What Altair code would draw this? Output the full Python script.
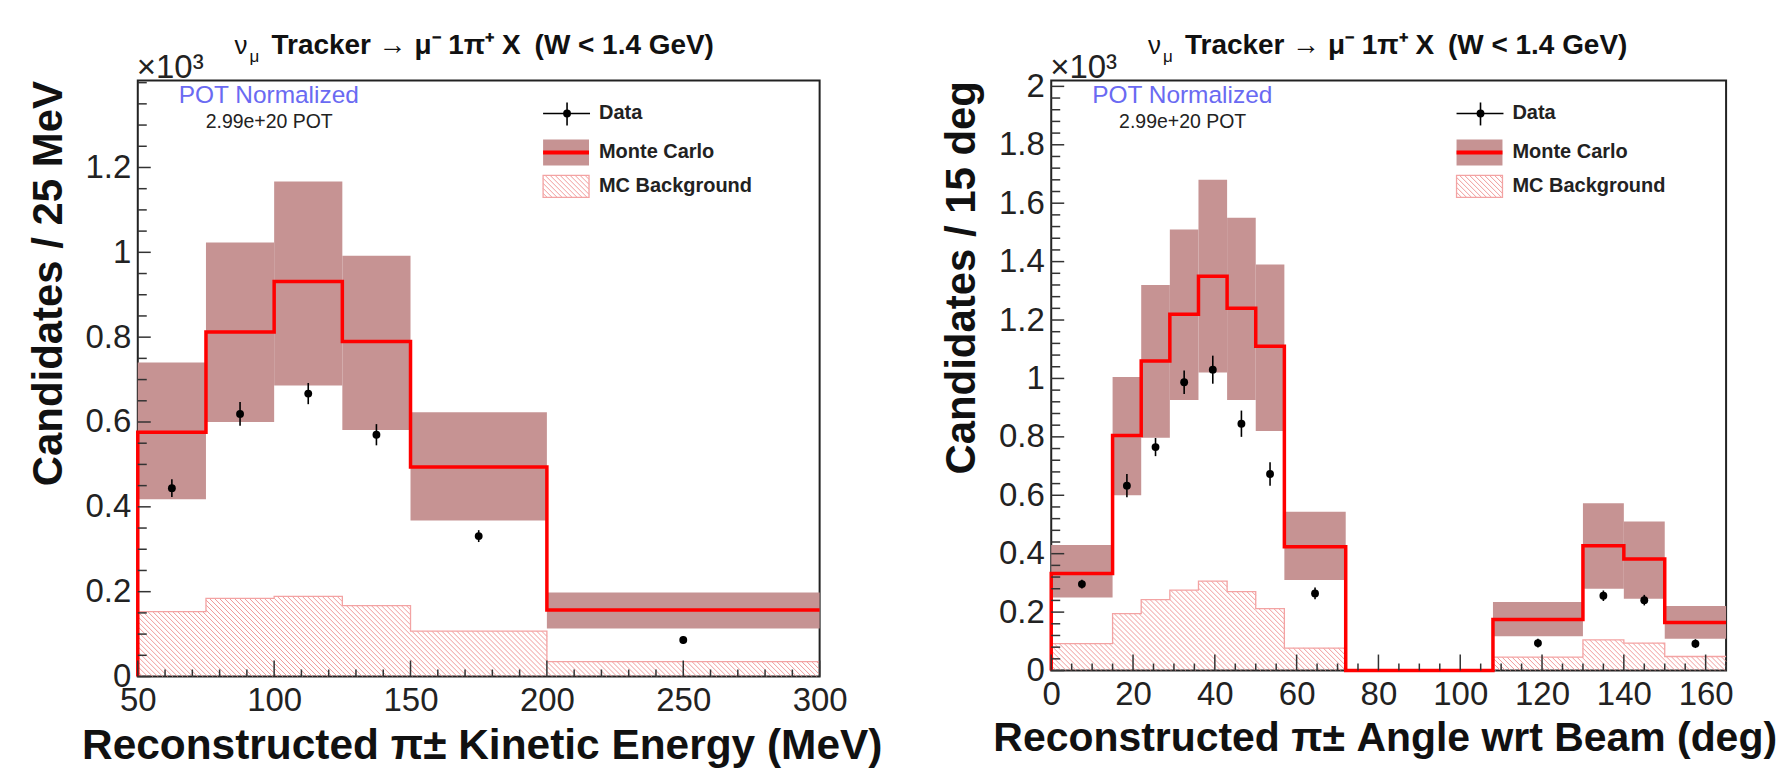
import math
import altair as alt
import pandas as pd

# ---------------- data (units of 10^3 candidates) ----------------
# Left panel: reconstructed pion kinetic energy
ke_edges = [50, 75, 100, 125, 150, 200, 300]
ke_mc = [0.576, 0.812, 0.931, 0.790, 0.494, 0.157]
ke_mc_lo = [0.418, 0.600, 0.686, 0.581, 0.368, 0.113]
ke_mc_hi = [0.740, 1.023, 1.167, 0.992, 0.623, 0.198]
ke_bkg = [0.153, 0.184, 0.189, 0.167, 0.107, 0.035]
ke_data = [0.444, 0.619, 0.667, 0.570, 0.331, 0.086]
ke_err = [0.021, 0.028, 0.025, 0.025, 0.014, 0.009]
ke_xticks = [50, 100, 150, 200, 250, 300]
ke_yticks = [0, 0.2, 0.4, 0.6, 0.8, 1.0, 1.2]

# Right panel: reconstructed pion angle wrt beam
ang_edges = [0, 15, 22, 29, 36, 43, 50, 57, 72, 108, 130, 140, 150, 165]
ang_mc = [0.332, 0.805, 1.06, 1.22, 1.35, 1.24, 1.11, 0.424, 0.0, 0.175, 0.427, 0.382, 0.164]
ang_mc_lo = [0.25, 0.60, 0.797, 0.926, 1.02, 0.926, 0.82, 0.31, 0.0, 0.117, 0.28, 0.246, 0.109]
ang_mc_hi = [0.43, 1.005, 1.32, 1.51, 1.68, 1.55, 1.39, 0.544, 0.0, 0.235, 0.573, 0.51, 0.221]
ang_bkg = [0.092, 0.195, 0.243, 0.275, 0.306, 0.27, 0.212, 0.077, 0.0, 0.046, 0.105, 0.094, 0.048]
ang_data = [0.296, 0.633, 0.765, 0.987, 1.03, 0.845, 0.673, 0.264, None, 0.094, 0.256, 0.241, 0.092]
ang_err = [0.015, 0.04, 0.031, 0.04, 0.048, 0.045, 0.04, 0.02, None, 0.015, 0.018, 0.018, 0.015]
ang_xticks = [0, 20, 40, 60, 80, 100, 120, 140, 160]
ang_yticks = [0, 0.2, 0.4, 0.6, 0.8, 1.0, 1.2, 1.4, 1.6, 1.8, 2.0]

title_main = "Tracker \u2192 \u03bc\u207b 1\u03c0\u207a X\u2002(W < 1.4 GeV)"
legend_labels = ["Data", "Monte Carlo", "MC Background"]

# ---------------- styles ----------------
FONT = "Liberation Sans"
BAND = "#c69393"
RED = "#ff0000"
HATCH = "#f09a9a"
TXT = "#222222"


def minor_ticks(lo, hi, step, majors):
    out = []
    n = int(round((hi - lo) / step))
    for i in range(n + 1):
        v = round(lo + i * step, 6)
        if v <= hi and all(abs(v - m) > 1e-6 for m in majors):
            out.append(v)
    return out


def hatch(rects, sx, sy, xmin, spacing=5.0):
    rows = []
    for (X0, X1, Y0, Y1) in rects:
        if Y1 - Y0 < 0.5 or X1 - X0 < 0.5:
            continue
        k0 = math.ceil((X0 + Y0) / spacing)
        k1 = math.floor((X1 + Y1) / spacing)
        for k in range(k0, k1 + 1):
            c = k * spacing
            xs = max(X0, c - Y1)
            xe = min(X1, c - Y0)
            if xe - xs < 0.3:
                continue
            rows.append(dict(x=xmin + xs / sx, y=(c - xs) / sy,
                             x2=xmin + xe / sx, y2=(c - xe) / sy))
    return pd.DataFrame(rows)


def panel(edges, mc, lo, hi, bkg, data, err, xdom, ydom, W, H,
          xmaj, xminstep, ymaj, yminstep, xtitle, ytitle, xtitle_shift=0,
          xtitle_size=41):
    sx = W / (xdom[1] - xdom[0])
    sy = H / (ydom[1] - ydom[0])
    xs = alt.Scale(domain=list(xdom), nice=False, zero=False)
    ys = alt.Scale(domain=list(ydom), nice=False, zero=False)
    xax = alt.Axis(values=xmaj, format="d", ticks=False, domain=False, grid=False,
                   labelFont=FONT, labelFontSize=33, labelColor=TXT, labelPadding=8,
                   labelFlush=False, labelOverlap=False,
                   title=xtitle, titleFont=FONT, titleFontSize=xtitle_size,
                   titleFontWeight="bold", titleColor="#111", titlePadding=7,
                   titleX=W / 2 + xtitle_shift)
    yax = alt.Axis(values=ymaj, format="~g", ticks=False, domain=False, grid=False,
                   labelFont=FONT, labelFontSize=33, labelColor=TXT, labelPadding=7,
                   labelOverlap=False, labelFlush=False,
                   title=ytitle, titleFont=FONT, titleFontSize=42, titleFontWeight="bold",
                   titleColor="#111", titlePadding=15, titleAnchor="end")

    def X(f):
        return alt.X(f, type="quantitative", scale=xs, axis=xax)

    def Y(f):
        return alt.Y(f, type="quantitative", scale=ys, axis=yax)

    nb = len(mc)
    bins = pd.DataFrame({"x": edges[:-1], "x2": edges[1:], "mc": mc,
                         "lo": lo, "hi": hi, "bkg": bkg})
    band_df = bins[bins["hi"] > bins["lo"]]
    band = alt.Chart(band_df).mark_rect(color=BAND).encode(
        x=X("x"), x2="x2", y=Y("lo"), y2="hi")

    # hatch for MC background (bins + legend box, pixel box relative to plot)
    rects = []
    for i in range(nb):
        rects.append(((edges[i] - xdom[0]) * sx, (edges[i + 1] - xdom[0]) * sx,
                      0.0, bkg[i] * sy))
    rects.append((406.0, 452.0, H - 117.0, H - 95.0))
    hdf = hatch(rects, sx, sy, xdom[0])
    hatch_layer = alt.Chart(hdf).mark_rule(color=HATCH, strokeWidth=1.0).encode(
        x=X("x"), y=Y("y"), x2="x2", y2="y2")

    # background outline
    bpts = []
    for i in range(nb):
        bpts.append((edges[i], bkg[i]))
        bpts.append((edges[i + 1], bkg[i]))
    bdf = pd.DataFrame({"x": [p[0] for p in bpts], "y": [p[1] for p in bpts],
                        "o": list(range(len(bpts)))})
    bline = alt.Chart(bdf).mark_line(color="#f3a3a3", strokeWidth=1.3).encode(
        x=X("x"), y=Y("y"), order="o:Q")

    # MC step line
    pts = [(edges[0], 0.0)]
    for i in range(nb):
        pts.append((edges[i], mc[i]))
        pts.append((edges[i + 1], mc[i]))
    sdf = pd.DataFrame({"x": [p[0] for p in pts], "y": [p[1] for p in pts],
                        "o": list(range(len(pts)))})
    mcline = alt.Chart(sdf).mark_line(color=RED, strokeWidth=3.5, strokeJoin="miter").encode(
        x=X("x"), y=Y("y"), order="o:Q")

    # data points
    rows = []
    for i in range(nb):
        if data[i] is None:
            continue
        c = 0.5 * (edges[i] + edges[i + 1])
        rows.append(dict(x=c, y=data[i], ylo=data[i] - err[i], yhi=data[i] + err[i]))
    ddf = pd.DataFrame(rows)
    ebar = alt.Chart(ddf).mark_rule(color="black", strokeWidth=1.6).encode(
        x=X("x"), y=Y("ylo"), y2="yhi")
    pts_layer = alt.Chart(ddf).mark_circle(color="black", size=62, opacity=1).encode(
        x=X("x"), y=Y("y"))

    # inward ticks
    ymin_t = minor_ticks(ydom[0], ydom[1], yminstep, ymaj)
    xmin_t = minor_ticks(xdom[0], xdom[1], xminstep, xmaj)
    tick_style = dict(color="#333333", strokeWidth=1.5)
    yt_maj = alt.Chart(pd.DataFrame({"y": ymaj})).mark_rule(**tick_style).encode(
        y=Y("y"), x=alt.value(0), x2=alt.value(13))
    yt_min = alt.Chart(pd.DataFrame({"y": ymin_t})).mark_rule(**tick_style).encode(
        y=Y("y"), x=alt.value(0), x2=alt.value(9))
    xt_maj = alt.Chart(pd.DataFrame({"x": xmaj})).mark_rule(**tick_style).encode(
        x=X("x"), y=alt.value(H), y2=alt.value(H - 16))
    xt_min = alt.Chart(pd.DataFrame({"x": xmin_t})).mark_rule(**tick_style).encode(
        x=X("x"), y=alt.value(H), y2=alt.value(H - 7))

    one = pd.DataFrame({"a": [0]})
    # legend
    lg_dh = alt.Chart(one).mark_rule(color="black", strokeWidth=1.6).encode(
        x=alt.value(406), x2=alt.value(453), y=alt.value(33))
    lg_dv = alt.Chart(one).mark_rule(color="black", strokeWidth=1.6).encode(
        x=alt.value(430), y=alt.value(22), y2=alt.value(45))
    lg_dp = alt.Chart(one).mark_circle(color="black", size=62, opacity=1).encode(
        x=alt.value(430), y=alt.value(33))
    lg_mc = alt.Chart(one).mark_rect(color=BAND).encode(
        x=alt.value(406), x2=alt.value(452), y=alt.value(59), y2=alt.value(85))
    lg_mcl = alt.Chart(one).mark_rule(color=RED, strokeWidth=4).encode(
        x=alt.value(406), x2=alt.value(452), y=alt.value(72))
    lg_bg = alt.Chart(one).mark_rect(fill="white", stroke="#f3a3a3", strokeWidth=1.3,
                                     fillOpacity=0).encode(
        x=alt.value(406), x2=alt.value(452), y=alt.value(95), y2=alt.value(117))
    lg_txt = alt.Chart(pd.DataFrame({"t": legend_labels, "yy": [33, 72, 106]})).mark_text(
        font=FONT, fontSize=20, fontWeight="bold", color=TXT, align="left",
        baseline="middle").encode(x=alt.value(462), y=alt.Y("yy:Q", scale=None), text="t:N")

    # annotations
    pot1 = alt.Chart(pd.DataFrame({"t": ["POT Normalized"]})).mark_text(
        font=FONT, fontSize=24.5, color="#6a6af2", align="left", baseline="alphabetic").encode(
        x=alt.value(41), y=alt.value(23), text="t:N")
    pot2 = alt.Chart(pd.DataFrame({"t": ["2.99e+20 POT"]})).mark_text(
        font=FONT, fontSize=19.5, color=TXT, align="left", baseline="alphabetic").encode(
        x=alt.value(68), y=alt.value(48), text="t:N")
    x103 = alt.Chart(pd.DataFrame({"t": ["\u00d710\u00b3"]})).mark_text(
        font=FONT, fontSize=33, color=TXT, align="left", baseline="alphabetic").encode(
        x=alt.value(-1), y=alt.value(-3), text="t:N")
    t_nu = alt.Chart(pd.DataFrame({"t": ["\u03bd"]})).mark_text(
        font=FONT, fontSize=26, color="#111", align="left", baseline="alphabetic").encode(
        x=alt.value(97), y=alt.value(-27), text="t:N")
    t_mu = alt.Chart(pd.DataFrame({"t": ["\u03bc"]})).mark_text(
        font=FONT, fontSize=17, color="#111", align="left", baseline="alphabetic").encode(
        x=alt.value(112), y=alt.value(-19), text="t:N")
    t_main = alt.Chart(pd.DataFrame({"t": [title_main]})).mark_text(
        font=FONT, fontSize=28, fontWeight="bold", color="#111", align="left",
        baseline="alphabetic").encode(x=alt.value(134), y=alt.value(-27), text="t:N")

    return alt.layer(
        band, hatch_layer, bline, mcline, ebar, pts_layer,
        yt_maj, yt_min, xt_maj, xt_min,
        lg_mc, lg_mcl, lg_bg, lg_dh, lg_dv, lg_dp, lg_txt,
        pot1, pot2, x103, t_nu, t_mu, t_main,
    ).properties(width=W, height=H)


left = panel(ke_edges, ke_mc, ke_mc_lo, ke_mc_hi, ke_bkg, ke_data, ke_err,
             (50, 300), (0, 1.405), 683, 597, ke_xticks, 10, ke_yticks, 0.05,
             "Reconstructed \u03c0\u00b1 Kinetic Energy (MeV)", "Candidates / 25 MeV", 3, 42.5)
right = panel(ang_edges, ang_mc, ang_mc_lo, ang_mc_hi, ang_bkg, ang_data, ang_err,
              (0, 165), (0, 2.02), 676, 591, ang_xticks, 5, ang_yticks, 0.04,
              "Reconstructed \u03c0\u00b1 Angle wrt Beam (deg)", "Candidates / 15 deg", -4, 41)

chart = alt.hconcat(left, right, spacing=232, bounds="flush").configure_view(
    stroke="#222222", strokeWidth=2
).properties(
    padding={"left": 18, "top": 22, "right": 0, "bottom": 0},
    background="white",
)

chart.save("out.html", embed_options={"renderer": "svg", "actions": False})
